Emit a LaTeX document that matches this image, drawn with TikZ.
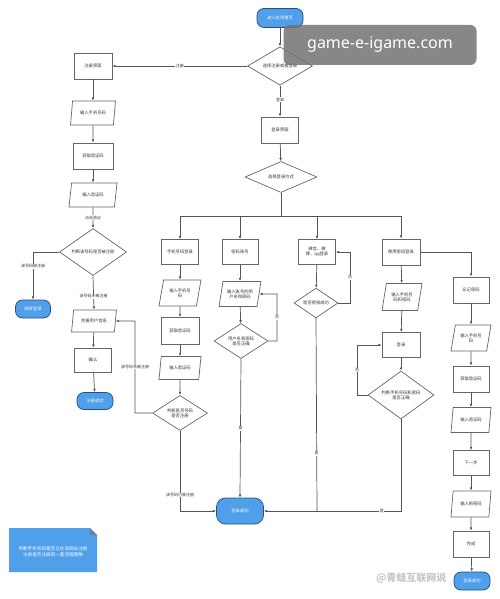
\documentclass[tikz,border=0pt]{standalone}
\usepackage{fontspec}
\newfontfamily\cjk{Noto Sans CJK SC}
\newfontfamily\wmfont{Noto Sans}
\usetikzlibrary{shapes.geometric,arrows.meta}
\definecolor{lineg}{HTML}{555555}
\definecolor{boxg}{HTML}{666666}
\definecolor{termblue}{HTML}{4F9FEA}
\definecolor{termedge}{HTML}{2B4F72}
\definecolor{txtg}{HTML}{333333}
\tikzset{
  base/.style={font=\cjk\fontsize{4.3}{5.2}\selectfont, text=txtg, align=center, inner sep=0pt},
  procbox/.style={base, draw=boxg, fill=white, line width=0.7pt, rectangle, minimum width=37pt, minimum height=25pt},
  iobox/.style={base, draw=boxg, fill=white, line width=0.7pt, trapezium, trapezium left angle=72, trapezium right angle=108, trapezium stretches=true, minimum width=45pt, minimum height=24pt},
  decide/.style={base, draw=boxg, fill=white, line width=0.7pt, diamond},
  term/.style={base, text=white, draw=termedge, fill=termblue, line width=0.7pt, rectangle, rounded corners=7pt, minimum width=36pt, minimum height=18pt},
  conn/.style={draw=lineg, line width=0.7pt},
  arr/.style={conn, -{Latex[length=3.2pt,width=2.6pt]}},
  lab/.style={base, fill=white, inner sep=0.6pt, font=\cjk\fontsize{4}{5}\selectfont}
}
\begin{document}
\begin{tikzpicture}[x=1pt,y=-1pt]
\useasboundingbox (0,0) rectangle (499,599);
\fill[white] (0,0) rectangle (499,599);

% ---- top
\node[term, minimum width=46pt, minimum height=19pt] (start) at (280,18) {进入应用首页};
\node[decide, minimum width=65pt, minimum height=35pt] (d1) at (280,66) {选择注册或者登录};

% ---- register column
\node[procbox, minimum width=38pt, minimum height=26pt] (reg) at (93,66) {注册界面};
\node[iobox] (r1) at (93,113) {输入手机号码};
\node[procbox, minimum width=40pt, minimum height=26pt] (r2) at (93,156) {获取验证码};
\node[iobox, minimum width=48pt] (r3) at (93,195) {输入验证码};
\node[decide, minimum width=67pt, minimum height=30pt] (r4) at (93,252) {判断该号码是否被注册};
\node[term, minimum width=35pt] (rt1) at (33,309) {跳转登录};
\node[iobox, minimum width=45pt, minimum height=22pt] (r5) at (94,321) {完善用户信息};
\node[procbox, minimum width=37pt, minimum height=24pt] (r6) at (93,360) {确认};
\node[term, minimum width=36pt, minimum height=17pt] (rt2) at (95,401) {注册成功};

% ---- login
\node[procbox, minimum width=37pt, minimum height=26pt] (lui) at (280,130) {登录界面};
\node[decide, minimum width=72pt, minimum height=31pt] (d3) at (281,177) {选择登录方式};
\coordinate (busm) at (281,216);
\coordinate (bus1) at (180,216);
\coordinate (bus4) at (401,216);

% column 1
\node[procbox] (a1) at (180,252) {手机号码登录};
\node[iobox, minimum width=42pt, minimum height=26pt] (a2) at (180,293) {输入手机号\\码};
\node[procbox, minimum width=38pt, minimum height=27pt] (a3) at (180,331) {获取验证码};
\node[iobox, minimum width=42pt, minimum height=23pt] (a4) at (180,368) {输入验证码};
\node[decide, minimum width=55pt, minimum height=31pt] (a5) at (180,413) {判断是否号码\\是否注册};

% column 2
\node[procbox, minimum width=36pt] (b1) at (240,252) {密码账号};
\node[iobox, minimum width=42pt, minimum height=25pt] (b2) at (240,294) {输入账号的用\\户名和密码};
\node[decide, minimum width=54pt, minimum height=33pt] (b3) at (241,341) {用户名和密码\\是否正确};

% column 3
\node[procbox] (c1) at (317,252) {微信、微\\博、qq登录};
\node[decide, minimum width=44pt, minimum height=28pt] (c2) at (316,303) {是否授权成功};

% column 4
\node[procbox, minimum width=38pt, minimum height=26pt] (e1) at (401,252) {使用密码登录};
\node[iobox, minimum width=40pt, minimum height=27pt] (e2) at (402,297) {输入手机号\\码和密码};
\node[procbox, minimum width=38pt, minimum height=25pt] (e3) at (401,345) {登录};
\node[decide, minimum width=66pt, minimum height=39pt] (e4) at (401,395) {判断手机号码和密码\\是否正确};

% forgot password column
\node[procbox, minimum width=36pt, minimum height=26pt] (f1) at (471,290) {忘记密码};
\node[iobox, minimum width=40pt, minimum height=26pt] (f2) at (471,338) {输入手机号\\码};
\node[procbox, minimum width=36pt, minimum height=26pt] (f3) at (471,379) {获取验证码};
\node[iobox, minimum width=40pt, minimum height=25pt] (f4) at (471,420) {输入验证码};
\node[procbox, minimum width=36pt, minimum height=25pt] (f5) at (471,463) {下一步};
\node[iobox, minimum width=40pt, minimum height=26pt] (f6) at (471,504) {输入新密码};
\node[procbox, minimum width=36pt, minimum height=26pt] (f7) at (471,544) {完成};
\node[term, minimum width=36pt, minimum height=18pt] (ft) at (472,581) {登录成功};

% login success terminal
\node[term, minimum width=47pt, minimum height=26pt, rounded corners=9pt] (ok) at (240,511) {登录成功};

% ---- connectors: top & register
\draw[arr] (start) -- (d1);
\draw[arr] (d1.west) -- node[lab] {注册} (reg.east);
\draw[arr] (d1.south) -- node[lab, pos=0.45] {登录} (lui.north);
\draw[arr] (reg) -- (r1);
\draw[arr] (r1) -- (r2);
\draw[arr] (r2) -- (r3);
\draw[arr] (r3) -- node[lab] {点击验证} (r4);
\coordinate (rl) at (33,252);
\draw[arr] (r4.west) -- (rl) -- node[lab, pos=0.3] {该号码被注册} (rt1.north);
\draw[arr] (r4.south) -- node[lab, pos=0.6] {该号码未被注册} (r5.north);
\draw[arr] (r5) -- (r6);
\draw[arr] (r6) -- (rt2);

% ---- login connectors
\draw[arr] (lui) -- (d3);
\draw[conn] (d3.south) -- (busm);
\draw[conn] (bus1) -- (bus4);
\draw[arr] (bus1) -- (a1.north);
\draw[arr] (240,216) -- (b1.north);
\draw[arr] (317,216) -- (c1.north);
\draw[arr] (bus4) -- (e1.north);

% column 1
\draw[arr] (a1) -- (a2);
\draw[arr] (a2) -- (a3);
\draw[arr] (a3) -- (a4);
\draw[arr] (a4) -- (a5);
\coordinate (al) at (135,413);
\coordinate (alt) at (135,321);
\draw[arr] (a5.west) -- (al) -- node[lab, pos=0.5] {该号码未被注册} (alt) -- (r5.east);
\coordinate (ab) at (180,511);
\draw[arr] (a5.south) -- node[lab, pos=0.8] {该号码已被注册} (ab) -- (ok.west);

% column 2
\draw[arr] (b1) -- (b2);
\draw[arr] (b2) -- (b3);
\coordinate (br1) at (277,341);
\coordinate (br2) at (277,294);
\draw[arr] (b3.east) -- (br1) -- node[lab] {否} (br2) -- (b2.east);
\draw[arr] (b3.south) -- node[lab, pos=0.5] {是} (ok.north);

% column 3
\draw[arr] (c1) -- (c2);
\coordinate (cr1) at (350,303);
\coordinate (cr2) at (350,252);
\draw[arr] (c2.east) -- (cr1) -- node[lab] {否} (cr2) -- (c1.east);
\coordinate (cb) at (317,511);
\draw[conn] (c2.south) -- node[lab, pos=0.7] {是} (cb);

% column 4
\draw[arr] (e1) -- (e2);
\draw[arr] (e2) -- (e3);
\draw[arr] (e3) -- (e4);
\coordinate (el1) at (357,395);
\coordinate (el2) at (357,345);
\draw[arr] (e4.west) -- (el1) -- node[lab] {否} (el2) -- (e3.west);
\coordinate (eb) at (401,511);
\draw[arr] (e4.south) -- (eb) -- node[lab, pos=0.14] {是} (ok.east);

% forgot column
\coordinate (fr) at (471,252);
\draw[arr] (e1.east) -- (fr) -- (f1.north);
\draw[arr] (f1) -- (f2);
\draw[arr] (f2) -- (f3);
\draw[arr] (f3) -- (f4);
\draw[arr] (f4) -- (f5);
\draw[arr] (f5) -- (f6);
\draw[arr] (f6) -- (f7);
\draw[arr] (f7) -- (ft);

% ---- note
\fill[termblue] (9,528) -- (90,528) -- (97,535) -- (97,572) -- (9,572) -- cycle;
\fill[termedge!70] (90,528) -- (97,535) -- (90,535) -- cycle;
\node[base, text=white, font=\cjk\fontsize{4.6}{6.4}\selectfont] (note) at (53,552) {判断手机号码是否已在该网站注册\\注册是否注册同一套流程图略};

% ---- watermarks
\node[rectangle, rounded corners=6pt, fill=black!55, fill opacity=0.85, text opacity=1, text=white, font=\wmfont\fontsize{16}{18}\selectfont, minimum width=193pt, minimum height=40pt, inner sep=0pt] (wm) at (380,45) {game-e-igame.com};
\node[font=\cjk\bfseries\fontsize{10}{11}\selectfont, text=black!22, anchor=east] (wm2) at (450,578) {@青蛙互联网说};
\end{tikzpicture}
\end{document}
